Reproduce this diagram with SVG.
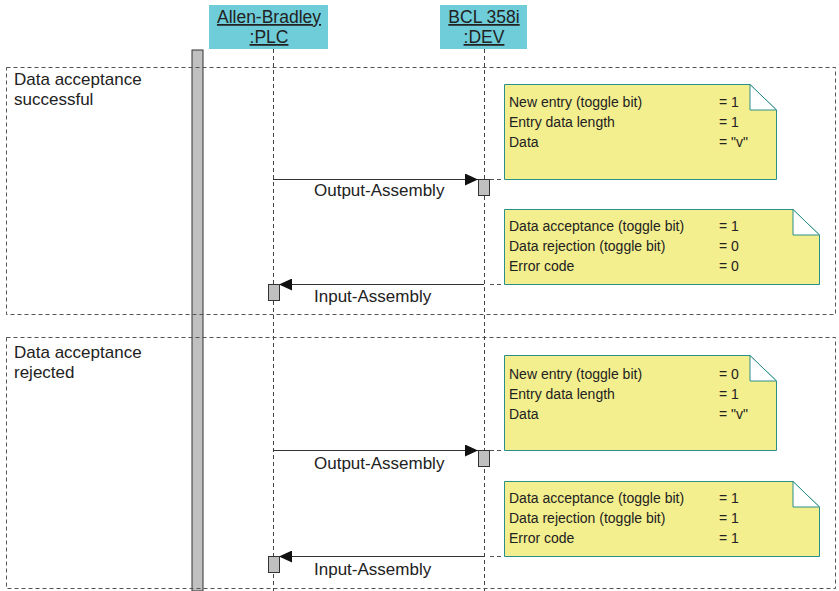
<svg xmlns="http://www.w3.org/2000/svg" width="839" height="591" viewBox="0 0 839 591">
<style>
text{font-family:"Liberation Sans",Arial,sans-serif;fill:#222}
.hdr{fill:#6ecdd9;stroke:none}
.ht{font-size:17.5px;text-decoration:underline;text-anchor:middle}
.frag{fill:none;stroke:#555;stroke-width:1;stroke-dasharray:4 3}
.fl{font-size:17px}
.life{stroke:#444;stroke-width:1;stroke-dasharray:4 3;fill:none}
.note{fill:#f3ee8e;stroke:#2a8f8a;stroke-width:1}
.fold{fill:#fff;stroke:#2a8f8a;stroke-width:1}
.nt{font-size:14px}
.act{fill:#c0c0c0;stroke:#333;stroke-width:1}
.msg{stroke:#333;stroke-width:1;fill:none}
.ml{font-size:17px}
.nlink{stroke:#555;stroke-width:1;stroke-dasharray:4 3}
</style>
<defs>
<marker id="ah" markerWidth="14" markerHeight="12" refX="13" refY="6" orient="auto" markerUnits="userSpaceOnUse">
<path d="M0,0 L13,6 L0,12 Z" fill="#111"/>
</marker>
</defs>

<g id="frame-bar">
<rect x="192" y="50" width="11" height="541" fill="#c0c0c0" stroke="#333" stroke-width="1"/>
</g>

<g id="fragment-successful">
<rect class="frag" x="6.5" y="67.5" width="829" height="247"/>
<text class="fl" x="14" y="85">Data acceptance</text>
<text class="fl" x="14" y="105">successful</text>
</g>
<g id="fragment-rejected">
<rect class="frag" x="6.5" y="337.5" width="829" height="251"/>
<text class="fl" x="14" y="358">Data acceptance</text>
<text class="fl" x="14" y="378">rejected</text>
</g>

<g id="plc">
<rect class="hdr" x="209" y="5" width="119" height="44"/>
<text class="ht" x="269" y="23">Allen-Bradley</text>
<text class="ht" x="269" y="43">:PLC</text>
<line class="life" x1="273.5" y1="49" x2="273.5" y2="591"/>
</g>
<g id="dev">
<rect class="hdr" x="440" y="5" width="87" height="44"/>
<text class="ht" x="484" y="23">BCL 358i</text>
<text class="ht" x="484" y="43">:DEV</text>
<line class="life" x1="484.5" y1="49" x2="484.5" y2="591"/>
</g>

<g id="note1">
<line class="nlink" x1="490" y1="179.5" x2="504" y2="179.5"/>
<path class="note" d="M504.5,84.5 H750 L776.5,110 V179.5 H504.5 Z"/>
<path class="fold" d="M750,84.5 L776.5,110 H750 Z"/>
<text class="nt" x="509" y="107">New entry (toggle bit)</text><text class="nt" x="719" y="107">= 1</text>
<text class="nt" x="509" y="127">Entry data length</text><text class="nt" x="719" y="127">= 1</text>
<text class="nt" x="509" y="147">Data</text><text class="nt" x="719" y="147">= "v"</text>
</g>
<g id="note2">
<line class="nlink" x1="490" y1="284.5" x2="504" y2="284.5"/>
<path class="note" d="M504.5,209.5 H793 L819.5,235 V284.5 H504.5 Z"/>
<path class="fold" d="M793,209.5 L819.5,235 H793 Z"/>
<text class="nt" x="509" y="231">Data acceptance (toggle bit)</text><text class="nt" x="719" y="231">= 1</text>
<text class="nt" x="509" y="251">Data rejection (toggle bit)</text><text class="nt" x="719" y="251">= 0</text>
<text class="nt" x="509" y="271">Error code</text><text class="nt" x="719" y="271">= 0</text>
</g>
<g id="note3">
<line class="nlink" x1="490" y1="450.5" x2="504" y2="450.5"/>
<path class="note" d="M504.5,355.5 H750 L776.5,381 V450.5 H504.5 Z"/>
<path class="fold" d="M750,355.5 L776.5,381 H750 Z"/>
<text class="nt" x="509" y="379">New entry (toggle bit)</text><text class="nt" x="719" y="379">= 0</text>
<text class="nt" x="509" y="399">Entry data length</text><text class="nt" x="719" y="399">= 1</text>
<text class="nt" x="509" y="419">Data</text><text class="nt" x="719" y="419">= "v"</text>
</g>
<g id="note4">
<line class="nlink" x1="490" y1="556.5" x2="504" y2="556.5"/>
<path class="note" d="M504.5,481.5 H793 L819.5,507 V556.5 H504.5 Z"/>
<path class="fold" d="M793,481.5 L819.5,507 H793 Z"/>
<text class="nt" x="509" y="503">Data acceptance (toggle bit)</text><text class="nt" x="719" y="503">= 1</text>
<text class="nt" x="509" y="523">Data rejection (toggle bit)</text><text class="nt" x="719" y="523">= 1</text>
<text class="nt" x="509" y="543">Error code</text><text class="nt" x="719" y="543">= 1</text>
</g>

<g id="connectors">
<line class="msg" x1="273" y1="179.5" x2="478" y2="179.5" marker-end="url(#ah)"/>
<rect class="act" x="478.5" y="179.5" width="11" height="16"/>
<text class="ml" x="314" y="196">Output-Assembly</text>

<line class="msg" x1="484" y1="284.5" x2="279" y2="284.5" marker-end="url(#ah)"/>
<rect class="act" x="268.5" y="284.5" width="11" height="16"/>
<text class="ml" x="314" y="302">Input-Assembly</text>

<line class="msg" x1="273" y1="450.5" x2="478" y2="450.5" marker-end="url(#ah)"/>
<rect class="act" x="478.5" y="450.5" width="11" height="16"/>
<text class="ml" x="314" y="469">Output-Assembly</text>

<line class="msg" x1="484" y1="556.5" x2="279" y2="556.5" marker-end="url(#ah)"/>
<rect class="act" x="268.5" y="556.5" width="11" height="16"/>
<text class="ml" x="314" y="575">Input-Assembly</text>
</g>
</svg>
